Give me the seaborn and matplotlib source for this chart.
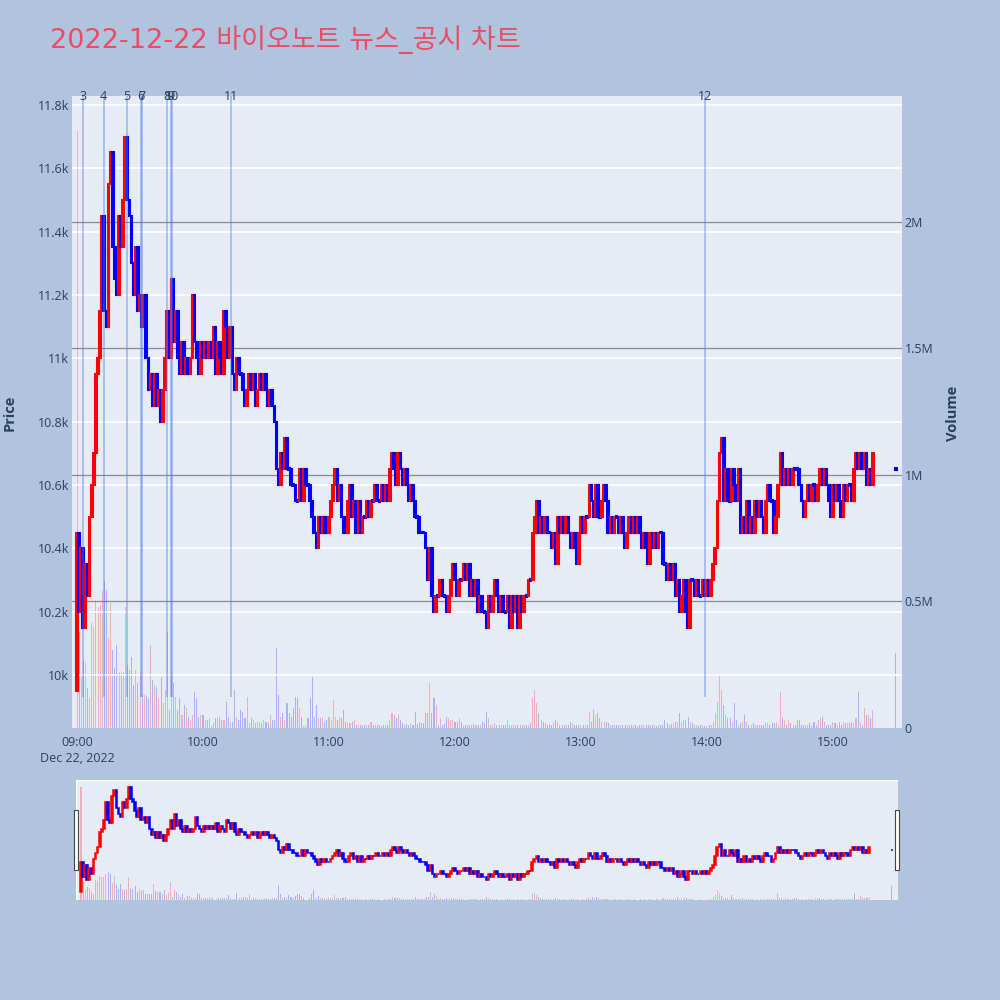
import numpy as np
import pandas as pd
import seaborn as sns
import matplotlib.pyplot as plt
from matplotlib.patches import Rectangle

sns.set_style("white")
plt.rcParams["font.family"] = ["Open Sans", "Noto Sans CJK KR", "DejaVu Sans"]

title = "2022-12-22 바이오노트 뉴스_공시 차트"

# 1-minute closes from 09:00 to 15:19 (KRW)
first_open = 9950
close_price = [
    10450, 10200, 10400, 10150, 10350, 10250, 10500, 10600, 10700, 10950,
    11000, 11150, 11450, 11150, 11100, 11550, 11650, 11350, 11250, 11200,
    11450, 11350, 11500, 11700, 11500, 11450, 11300, 11200, 11350, 11150,
    11200, 11100, 11200, 11000, 10900, 10950, 10850, 10950, 10850, 10900,
    10800, 10900, 11000, 11150, 11000, 11250, 11050, 11150, 11000, 10950,
    11050, 10950, 11000, 10950, 11000, 11200, 11050, 11000, 10950, 11050,
    11000, 11050, 11000, 11050, 11000, 11100, 10950, 11050, 11000, 10950,
    11150, 11100, 11000, 11100, 10950, 10900, 11000, 10950, 10950, 10900,
    10850, 10900, 10950, 10900, 10950, 10850, 10900, 10950, 10900, 10950,
    10900, 10850, 10900, 10850, 10800, 10650, 10600, 10700, 10650, 10750,
    10650, 10650, 10600, 10600, 10550, 10550, 10650, 10550, 10650, 10600,
    10600, 10550, 10500, 10450, 10400, 10500, 10450, 10500, 10450, 10450,
    10500, 10550, 10600, 10650, 10550, 10600, 10500, 10450, 10450, 10550,
    10600, 10500, 10550, 10450, 10550, 10450, 10500, 10500, 10550, 10500,
    10550, 10550, 10600, 10550, 10550, 10600, 10550, 10600, 10550, 10650,
    10700, 10650, 10600, 10700, 10650, 10600, 10650, 10600, 10550, 10600,
    10550, 10500, 10500, 10450, 10450, 10450, 10400, 10300, 10400, 10250,
    10200, 10250, 10250, 10300, 10250, 10250, 10200, 10250, 10300, 10350,
    10300, 10250, 10300, 10300, 10350, 10300, 10350, 10250, 10300, 10250,
    10300, 10200, 10250, 10200, 10200, 10150, 10250, 10200, 10250, 10300,
    10250, 10200, 10250, 10200, 10200, 10250, 10150, 10250, 10200, 10250,
    10150, 10250, 10200, 10250, 10250, 10300, 10300, 10450, 10500, 10550,
    10450, 10500, 10450, 10500, 10450, 10450, 10400, 10450, 10350, 10500,
    10450, 10500, 10450, 10500, 10450, 10400, 10450, 10400, 10350, 10450,
    10500, 10450, 10500, 10500, 10600, 10550, 10500, 10600, 10500, 10500,
    10550, 10600, 10550, 10450, 10500, 10450, 10500, 10500, 10450, 10500,
    10450, 10400, 10450, 10500, 10450, 10500, 10450, 10500, 10450, 10400,
    10450, 10400, 10350, 10450, 10400, 10450, 10400, 10450, 10450, 10350,
    10350, 10300, 10350, 10300, 10350, 10250, 10300, 10200, 10250, 10300,
    10200, 10150, 10300, 10300, 10250, 10300, 10250, 10250, 10300, 10250,
    10300, 10250, 10300, 10350, 10400, 10550, 10700, 10750, 10550, 10650,
    10550, 10550, 10650, 10600, 10550, 10650, 10450, 10500, 10450, 10550,
    10450, 10500, 10450, 10550, 10500, 10550, 10500, 10450, 10550, 10600,
    10550, 10550, 10450, 10500, 10600, 10700, 10600, 10650, 10600, 10650,
    10600, 10650, 10650, 10650, 10600, 10550, 10500, 10550, 10600, 10550,
    10600, 10600, 10550, 10600, 10650, 10600, 10650, 10600, 10550, 10500,
    10600, 10550, 10600, 10550, 10500, 10600, 10550, 10600, 10600, 10550,
    10650, 10700, 10650, 10700, 10650, 10700, 10600, 10650, 10600, 10700,
]
# 15:30 closing auction
auction_minute = 390
auction_open = 10650
auction_close = 10650

# volume per minute, thousands of shares
volume_k = [
    2360, 380, 200, 270, 256, 160, 120, 414, 400, 500,
    480, 486, 540, 580, 545, 355, 494, 308, 236, 328,
    223, 216, 223, 480, 250, 230, 282, 170, 230, 178,
    216, 135, 130, 125, 120, 328, 190, 170, 164, 117,
    203, 97, 150, 380, 71, 203, 176, 123, 71, 117,
    51, 91, 78, 45, 32, 51, 143, 117, 45, 51,
    51, 32, 32, 38, 8, 18, 38, 38, 45, 32,
    32, 104, 45, 25, 25, 150, 45, 32, 71, 65,
    38, 124, 18, 38, 32, 18, 25, 25, 18, 32,
    25, 18, 51, 32, 32, 315, 130, 45, 58, 32,
    97, 58, 45, 78, 124, 117, 78, 45, 8, 8,
    38, 117, 203, 45, 91, 38, 38, 45, 25, 32,
    45, 32, 110, 45, 32, 45, 38, 71, 25, 25,
    18, 25, 32, 12, 12, 12, 10, 12, 10, 12,
    25, 12, 10, 12, 10, 8, 12, 10, 12, 30,
    58, 50, 38, 50, 30, 18, 12, 15, 12, 18,
    12, 65, 15, 25, 18, 20, 58, 58, 177, 58,
    117, 91, 12, 38, 12, 15, 45, 38, 32, 32,
    25, 25, 38, 25, 12, 10, 12, 12, 12, 15,
    12, 10, 12, 25, 18, 65, 38, 12, 12, 18,
    12, 10, 12, 10, 12, 30, 12, 10, 12, 10,
    12, 10, 12, 12, 10, 12, 18, 117, 150, 97,
    58, 32, 25, 18, 12, 15, 12, 25, 32, 25,
    12, 10, 12, 12, 10, 25, 18, 12, 10, 12,
    10, 12, 10, 12, 65, 25, 71, 51, 58, 38,
    25, 25, 25, 18, 12, 10, 12, 12, 10, 12,
    12, 10, 12, 12, 12, 10, 12, 8, 10, 12,
    10, 12, 10, 12, 12, 10, 8, 12, 10, 12,
    32, 18, 12, 15, 18, 25, 25, 58, 25, 32,
    32, 45, 25, 18, 12, 10, 8, 10, 12, 8,
    8, 10, 12, 25, 58, 104, 210, 150, 91, 51,
    38, 38, 25, 97, 32, 12, 18, 25, 51, 25,
    12, 12, 18, 12, 10, 12, 10, 12, 25, 18,
    12, 18, 18, 25, 12, 143, 45, 32, 12, 32,
    18, 12, 12, 32, 32, 12, 10, 12, 10, 18,
    12, 25, 12, 32, 38, 45, 25, 12, 10, 12,
    25, 18, 10, 25, 12, 25, 18, 18, 18, 25,
    18, 38, 143, 25, 12, 78, 51, 51, 38, 71,
]
auction_volume_k = 295

# news / disclosure times (minutes after 09:00)
news_minutes = [2.7, 12.7, 23.7, 30.3, 31.0, 42.7, 44.8, 45.2, 73.2, 299.0]
news_labels = ["3", "4", "5", "6", "7", "8", "9", "10", "11", "12"]

time_ticks = [0, 60, 120, 180, 240, 300, 360]
time_labels = ["09:00", "10:00", "11:00", "12:00", "13:00", "14:00", "15:00"]
price_ticks = [10000, 10200, 10400, 10600, 10800, 11000, 11200, 11400, 11600, 11800]
price_labels = ["10k", "10.2k", "10.4k", "10.6k", "10.8k", "11k", "11.2k", "11.4k", "11.6k", "11.8k"]
vol_ticks = [0, 500, 1000, 1500, 2000]
vol_labels = ["0", "0.5M", "1M", "1.5M", "2M"]

n = min(len(close_price), len(volume_k))
df = pd.DataFrame({
    "minute": list(range(n)) + [auction_minute],
    "open": [first_open] + close_price[:n - 1] + [auction_open],
    "close": close_price[:n] + [auction_close],
    "volume": volume_k[:n] + [auction_volume_k],
})
df["dir"] = np.where(df["close"] > df["open"], "up", "down")

BG = "#b0c4de"
PLOT_BG = "#e5ecf6"
TXT = "#2a3f5f"
XLIM = (-2.4, 392.9)


def draw_candles(ax, width, lw):
    h = (df["close"] - df["open"]).to_numpy(dtype=float)
    flat = h == 0
    h[flat] = 6
    bottom = df["open"].to_numpy(dtype=float) - np.where(flat, 3, 0)
    colors = np.where(df["dir"] == "up", "#ff0000", "#0000ff")
    ax.bar(df["minute"], h, bottom=bottom, width=width, color=colors,
           edgecolor=colors, linewidth=lw, zorder=3)


def draw_volume(ax):
    sns.histplot(data=df, x="minute", weights="volume", hue="dir",
                 palette={"up": "#ff0000", "down": "#0000ff"},
                 binwidth=1, binrange=(-0.5, 390.5), shrink=0.5,
                 alpha=0.25, linewidth=0, legend=False, ax=ax)


fig = plt.figure(figsize=(10, 10), dpi=100, facecolor=BG)

# main panel: volume underneath, price on top
ax_v = fig.add_axes([0.072, 0.272, 0.83, 0.632])
ax_v.set_facecolor(PLOT_BG)
for v in vol_ticks[1:]:
    ax_v.axhline(v, color="#8a8a8a", lw=0.9, zorder=0)
draw_volume(ax_v)
ax_v.set_xlim(*XLIM)
ax_v.set_ylim(0, 2498)
ax_v.yaxis.tick_right()
ax_v.set_yticks(vol_ticks, vol_labels)
ax_v.set_xticks(time_ticks, time_labels)
ax_v.tick_params(axis="y", length=0, pad=2, labelsize=9, labelcolor=TXT)
ax_v.tick_params(axis="x", length=0, pad=6, labelsize=9, labelcolor=TXT)
ax_v.set_xlabel("")
ax_v.set_ylabel("")
for s in ax_v.spines.values():
    s.set_visible(False)

ax_p = fig.add_axes([0.072, 0.272, 0.83, 0.632], sharex=ax_v)
ax_p.set_facecolor("none")
for p in price_ticks:
    ax_p.axhline(p, color="white", lw=1.2, zorder=1)
draw_candles(ax_p, 0.8, 1.5)
ax_p.vlines(news_minutes, 9930, 11828, color="#5079f3", alpha=0.4, lw=1.4, zorder=4)
for m, lab in zip(news_minutes, news_labels):
    ax_p.text(m, 11828, lab, ha="center", va="center", fontsize=9, color=TXT,
              clip_on=False, zorder=5)
ax_p.set_ylim(9833, 11828)
ax_p.set_yticks(price_ticks, price_labels)
ax_p.tick_params(axis="y", length=0, pad=2, labelsize=9, labelcolor=TXT)
ax_p.tick_params(axis="x", bottom=False, labelbottom=False)
for s in ax_p.spines.values():
    s.set_visible(False)

fig.text(0.077, 0.242, "Dec 22, 2022", ha="center", va="center", fontsize=9, color=TXT)
fig.text(0.010, 0.587, "Price", rotation=90, ha="center", va="center",
         fontsize=10.5, fontweight="bold", color=TXT)
fig.text(0.953, 0.587, "Volume", rotation=90, ha="center", va="center",
         fontsize=10.5, fontweight="bold", color=TXT)
fig.text(0.05, 0.96, title, ha="left", va="center", fontsize=19.5, color="#eb4d65",
         family=["DejaVu Sans", "Noto Sans CJK KR"])

# range slider
ax_sv = fig.add_axes([0.076, 0.10, 0.822, 0.12])
ax_sv.set_facecolor(PLOT_BG)
draw_volume(ax_sv)
ax_sv.set_xlim(*XLIM)
ax_sv.set_ylim(0, 2500)
ax_sv.axis("off")
ax_sv.add_patch(Rectangle((0, 0), 1, 1, transform=ax_sv.transAxes,
                          facecolor=PLOT_BG, zorder=-1))
ax_sp = fig.add_axes([0.076, 0.10, 0.822, 0.12], sharex=ax_sv)
ax_sp.set_facecolor("none")
draw_candles(ax_sp, 0.8, 1.1)
ax_sp.set_ylim(9817, 11817)
ax_sp.axis("off")

for hx in (0.074, 0.895):
    fig.patches.append(Rectangle((hx, 0.13), 0.004, 0.06, transform=fig.transFigure,
                                 facecolor="white", edgecolor="#444444", lw=0.8))

fig.savefig("out.png", dpi=100, facecolor=BG)
